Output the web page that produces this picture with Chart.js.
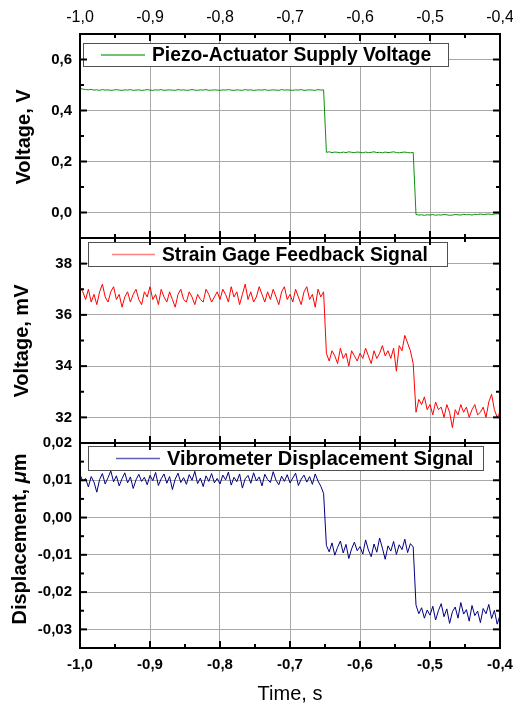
<!DOCTYPE html>
<html><head><meta charset="utf-8">
<script src="https://cdn.jsdelivr.net/npm/chart.js@4.4.0/dist/chart.umd.min.js"></script>
<style>
html,body{margin:0;padding:0;background:#fff;}
#wrap{position:relative;width:513px;height:705px;}
#wrap canvas{position:absolute;left:0;top:0;}
</style></head><body>
<div id="wrap">
<canvas id="c1" width="513" height="705"></canvas>
<canvas id="c2" width="513" height="705"></canvas>
<canvas id="c3" width="513" height="705"></canvas>
</div>
<script>
// ---- data ----
const times = [
-1.000,-0.996,-0.992,-0.988,-0.984,-0.980,-0.976,-0.972,-0.968,-0.964,-0.960,-0.956,-0.952,-0.948,-0.944,-0.940,-0.936,-0.932,-0.928,-0.924,-0.920,-0.916,-0.912,-0.908,-0.904,
-0.900,-0.896,-0.892,-0.888,-0.884,-0.880,-0.876,-0.872,-0.868,-0.864,-0.860,-0.856,-0.852,-0.848,-0.844,-0.840,-0.836,-0.832,-0.828,-0.824,-0.820,-0.816,-0.812,-0.808,-0.804,
-0.800,-0.796,-0.792,-0.788,-0.784,-0.780,-0.776,-0.772,-0.768,-0.764,-0.760,-0.756,-0.752,-0.748,-0.744,-0.740,-0.736,-0.732,-0.728,-0.724,-0.720,-0.716,-0.712,-0.708,-0.704,
-0.700,-0.696,-0.692,-0.688,-0.684,-0.680,-0.676,-0.672,-0.668,-0.664,-0.660,-0.656,-0.652,-0.648,-0.644,-0.640,-0.636,-0.632,-0.628,-0.624,-0.620,-0.616,-0.612,-0.608,-0.604,
-0.600,-0.596,-0.592,-0.588,-0.584,-0.580,-0.576,-0.572,-0.568,-0.564,-0.560,-0.556,-0.552,-0.548,-0.544,-0.540,-0.536,-0.532,-0.528,-0.524,-0.520,-0.516,-0.512,-0.508,-0.504,
-0.500,-0.496,-0.492,-0.488,-0.484,-0.480,-0.476,-0.472,-0.468,-0.464,-0.460,-0.456,-0.452,-0.448,-0.444,-0.440,-0.436,-0.432,-0.428,-0.424,-0.420,-0.416,-0.412,-0.408,-0.404,
-0.400];

const supplyVoltage = [
0.487,0.484,0.482,0.481,0.483,0.480,0.481,0.479,0.482,0.480,0.481,0.479,0.480,0.482,0.480,0.479,0.481,0.480,0.482,0.479,0.480,0.481,0.479,0.480,0.482,
0.480,0.479,0.481,0.480,0.482,0.479,0.480,0.481,0.480,0.479,0.482,0.480,0.481,0.479,0.480,0.482,0.480,0.479,0.481,0.480,0.482,0.479,0.480,0.481,0.480,
0.479,0.481,0.480,0.482,0.480,0.479,0.481,0.480,0.479,0.482,0.480,0.481,0.479,0.480,0.481,0.480,0.482,0.479,0.480,0.481,0.480,0.479,0.482,0.480,0.481,
0.480,0.479,0.481,0.480,0.482,0.479,0.480,0.481,0.480,0.479,0.482,0.480,0.481,0.236,0.238,0.235,0.237,0.236,0.234,0.237,0.235,0.238,0.236,0.235,0.237,
0.236,0.234,0.237,0.235,0.236,0.238,0.235,0.236,0.234,0.237,0.235,0.236,0.238,0.235,0.234,0.236,0.237,0.235,0.234,0.236,-0.008,-0.010,-0.009,-0.011,-0.009,
-0.010,-0.008,-0.011,-0.009,-0.010,-0.008,-0.009,-0.011,-0.010,-0.008,-0.009,-0.010,-0.007,-0.009,-0.008,-0.010,-0.007,-0.008,-0.006,-0.008,-0.007,-0.006,-0.008,-0.006,-0.005,
-0.006];

const strainGage = [
37.1,36.9,36.6,37.0,36.5,36.8,36.4,36.9,37.2,36.7,36.5,36.9,37.1,36.6,36.8,36.3,36.7,36.9,36.5,36.8,37.0,36.6,36.4,36.9,36.7,
37.1,36.6,36.8,36.4,37.0,36.7,36.5,36.9,36.6,36.3,36.8,37.0,36.6,36.5,36.9,36.7,36.4,36.8,36.6,36.5,37.0,36.8,36.5,36.7,36.9,
36.6,37.0,36.8,36.5,37.1,36.7,36.9,36.4,36.8,37.2,36.6,36.9,36.5,36.7,37.1,36.8,36.5,36.9,36.6,37.0,36.7,36.4,36.9,37.1,36.6,
36.8,36.5,37.0,36.7,36.4,36.9,37.1,36.6,36.8,36.3,37.0,36.7,36.9,34.5,34.2,34.6,34.4,34.1,34.7,34.3,34.5,34.0,34.6,34.4,34.2,
34.5,34.3,34.7,34.4,34.1,34.6,34.3,34.5,34.8,34.4,34.6,34.3,34.7,33.8,34.8,34.6,35.2,34.9,34.6,34.1,32.2,32.7,32.5,32.8,32.3,
32.5,32.1,32.6,32.3,32.4,32.0,32.5,32.2,31.6,32.3,32.1,32.5,32.2,32.4,32.0,32.3,32.5,32.1,32.2,32.4,32.0,32.6,32.9,32.3,32.0,
32.2];

const displacement = [
0.0115,0.0098,0.0105,0.0082,0.0110,0.0095,0.0068,0.0102,0.0118,0.0090,0.0107,0.0125,0.0096,0.0112,0.0085,0.0104,0.0120,0.0093,0.0109,0.0078,0.0101,0.0116,0.0097,0.0108,0.0088,
0.0113,0.0099,0.0121,0.0086,0.0104,0.0117,0.0092,0.0110,0.0075,0.0103,0.0119,0.0094,0.0107,0.0089,0.0115,0.0100,0.0124,0.0091,0.0106,0.0083,0.0112,0.0097,0.0118,0.0093,0.0105,
0.0090,0.0114,0.0101,0.0122,0.0087,0.0108,0.0096,0.0117,0.0079,0.0104,0.0113,0.0092,0.0120,0.0098,0.0109,0.0085,0.0116,0.0102,0.0094,0.0123,0.0100,0.0088,0.0111,0.0097,0.0115,
0.0093,0.0106,0.0119,0.0086,0.0103,0.0114,0.0095,0.0110,0.0089,0.0117,0.0098,0.0084,0.0065,-0.0075,-0.0092,-0.0068,-0.0101,-0.0080,-0.0063,-0.0095,-0.0072,-0.0110,-0.0084,-0.0066,-0.0089,
-0.0078,-0.0098,-0.0060,-0.0087,-0.0105,-0.0071,-0.0093,-0.0055,-0.0082,-0.0112,-0.0076,-0.0090,-0.0064,-0.0099,-0.0073,-0.0086,-0.0058,-0.0094,-0.0070,-0.0079,-0.0235,-0.0258,-0.0242,-0.0270,-0.0248,
-0.0262,-0.0238,-0.0275,-0.0250,-0.0231,-0.0266,-0.0245,-0.0284,-0.0253,-0.0240,-0.0270,-0.0228,-0.0259,-0.0247,-0.0278,-0.0236,-0.0263,-0.0251,-0.0282,-0.0244,-0.0258,-0.0233,-0.0271,-0.0249,-0.0286,
-0.0262];

const xTicks = [-1.0,-0.9,-0.8,-0.7,-0.6,-0.5,-0.4];
const xMinorTicks = [-0.95,-0.85,-0.75,-0.65,-0.55,-0.45];
const voltTicks = [0,0.2,0.4,0.6];
const voltMinor = [0.1,0.3,0.5];
const mvTicks = [32,34,36,38];
const mvMinor = [33,35,37];
const dispTicks = [-0.03,-0.02,-0.01,0,0.01,0.02];
const dispMinor = [-0.025,-0.015,-0.005,0.005,0.015];

// ---- drawing ----
const FONT = '"Liberation Sans", Arial, sans-serif';
const GRID = '#a8a8a8';

function fmt(d){
  return v => { if (Math.abs(v) < 1e-9) v = 0; return Number(v).toFixed(d).replace('.', ','); };
}

function panel(cfg){
  const frame = {
    id: 'frame_' + cfg.id,
    afterDatasetsDraw(chart){
      const {ctx, chartArea: a} = chart;
      const xs = chart.scales.x, ys = chart.scales.y;
      const L = cfg.legend;
      ctx.save();
      // legend box
      ctx.fillStyle = '#fff';
      ctx.fillRect(L.x, L.y, L.w, L.h);
      ctx.strokeStyle = '#505050'; ctx.lineWidth = 1;
      ctx.strokeRect(L.x + 0.5, L.y + 0.5, L.w - 1, L.h - 1);
      const cy = L.y + L.h / 2;
      ctx.strokeStyle = cfg.legendColor; ctx.lineWidth = 1.5;
      ctx.beginPath(); ctx.moveTo(L.x1, cy); ctx.lineTo(L.x2, cy); ctx.stroke();
      ctx.fillStyle = '#000'; ctx.font = 'bold ' + L.fs + 'px ' + FONT;
      ctx.textBaseline = 'middle'; ctx.textAlign = 'left';
      ctx.fillText(chart.data.datasets[0].label, L.tx, cy + 1);
      // frame and inward ticks
      ctx.strokeStyle = '#000'; ctx.lineWidth = 2;
      ctx.strokeRect(a.left, a.top, a.right - a.left, a.bottom - a.top);
      const seg = (x1, y1, x2, y2) => { ctx.beginPath(); ctx.moveTo(x1, y1); ctx.lineTo(x2, y2); ctx.stroke(); };
      const near = (p, b) => Math.abs(p - b) < 1.5;
      for (const [arr, len] of [[xTicks, 7], [xMinorTicks, 4]]) {
        for (const v of arr) {
          const p = xs.getPixelForValue(v);
          if (near(p, a.left) || near(p, a.right)) continue;
          seg(p, a.top, p, a.top + len); seg(p, a.bottom, p, a.bottom - len);
        }
      }
      for (const [arr, len] of [[cfg.yMajor, 7], [cfg.yMinor, 4]]) {
        for (const v of arr) {
          const p = ys.getPixelForValue(v);
          if (near(p, a.top) || near(p, a.bottom)) continue;
          seg(a.left, p, a.left + len, p); seg(a.right, p, a.right - len, p);
        }
      }
      // y-axis title
      ctx.translate(cfg.titleX, cfg.titleY); ctx.rotate(-Math.PI / 2);
      ctx.textBaseline = 'middle';
      let total = 0;
      for (const part of cfg.title) { ctx.font = part.f; total += ctx.measureText(part.t).width; }
      let x = -total / 2;
      for (const part of cfg.title) { ctx.font = part.f; ctx.fillText(part.t, x, 0); x += ctx.measureText(part.t).width; }
      ctx.restore();
    }
  };

  return new Chart(document.getElementById(cfg.id), {
    type: 'line',
    data: { datasets: [{
      label: cfg.label,
      data: times.map((t, i) => ({x: t, y: cfg.values[i]})),
      borderColor: cfg.color, borderWidth: 1, pointRadius: 0, tension: 0, fill: false
    }]},
    options: {
      responsive: false, animation: false, events: [],
      layout: { padding: { left: 0, right: 13, top: cfg.padTop, bottom: cfg.padBottom } },
      plugins: { legend: { display: false }, tooltip: { enabled: false } },
      scales: {
        x: {
          type: 'linear', min: -1, max: -0.4, position: cfg.xPos,
          afterBuildTicks: s => { s.ticks = xTicks.map(v => ({value: v})); },
          afterFit: s => { s.height = cfg.xHeight; s.paddingLeft = 0; s.paddingRight = 0; s.paddingTop = 0; s.paddingBottom = 0; },
          grid: { color: GRID, lineWidth: 1, drawTicks: false },
          border: { display: false },
          ticks: { display: cfg.xLabels, font: cfg.xFont, color: '#000', padding: cfg.xPad,
                   callback: fmt(1), maxRotation: 0, autoSkip: false },
          title: cfg.xTitle || { display: false }
        },
        y: {
          type: 'linear', min: cfg.yMin, max: cfg.yMax,
          afterBuildTicks: s => { s.ticks = cfg.yMajor.map(v => ({value: v})); },
          afterFit: s => { s.width = 80; s.paddingTop = 0; s.paddingBottom = 0; },
          grid: { color: GRID, lineWidth: 1, drawTicks: false },
          border: { display: false },
          ticks: { font: { family: FONT, size: 15, weight: 'bold' }, color: '#000', padding: 8,
                   callback: fmt(cfg.yDec), autoSkip: false }
        }
      }
    },
    plugins: [frame]
  });
}

const B20 = 'bold 20px ' + FONT;

panel({
  id: 'c1', label: 'Piezo-Actuator Supply Voltage', values: supplyVoltage,
  color: '#0c900c', legendColor: '#40b040',
  yMin: -0.1, yMax: 0.7, yMajor: voltTicks, yMinor: voltMinor, yDec: 1,
  padTop: 0, padBottom: 705 - 238, xPos: 'top', xHeight: 34, xLabels: true,
  xFont: { family: FONT, size: 16 }, xPad: 7,
  legend: { x: 83, y: 43, w: 366, h: 24, x1: 101, x2: 145, tx: 152, fs: 19.3 },
  title: [{ t: 'Voltage, V', f: B20 }], titleX: 24, titleY: 137
});

panel({
  id: 'c2', label: 'Strain Gage Feedback Signal', values: strainGage,
  color: '#ff0000', legendColor: '#ff8080',
  yMin: 31, yMax: 39, yMajor: mvTicks, yMinor: mvMinor, yDec: 0,
  padTop: 238, padBottom: 705 - 443, xPos: 'bottom', xHeight: 0, xLabels: false,
  xFont: { family: FONT, size: 15 }, xPad: 0,
  legend: { x: 88, y: 242, w: 360, h: 25, x1: 112, x2: 155, tx: 162, fs: 19.3 },
  title: [{ t: 'Voltage, mV', f: B20 }], titleX: 22, titleY: 341
});

panel({
  id: 'c3', label: 'Vibrometer Displacement Signal', values: displacement,
  color: '#000080', legendColor: '#6060b8',
  yMin: -0.035, yMax: 0.02, yMajor: dispTicks, yMinor: dispMinor, yDec: 2,
  padTop: 443, padBottom: 0, xPos: 'bottom', xHeight: 705 - 648, xLabels: true,
  xFont: { family: FONT, size: 15, weight: 'bold' }, xPad: 8,
  xTitle: { display: true, text: 'Time, s', color: '#000',
            font: { family: FONT, size: 20, lineHeight: 1 }, padding: { top: 0, bottom: 1 } },
  legend: { x: 88, y: 446, w: 396, h: 25, x1: 116, x2: 160, tx: 167, fs: 20 },
  title: [{ t: 'Displacement, ', f: B20 }, { t: 'μ', f: 'italic bold 20px ' + FONT }, { t: 'm', f: B20 }],
  titleX: 20, titleY: 539
});
</script>
</body></html>
